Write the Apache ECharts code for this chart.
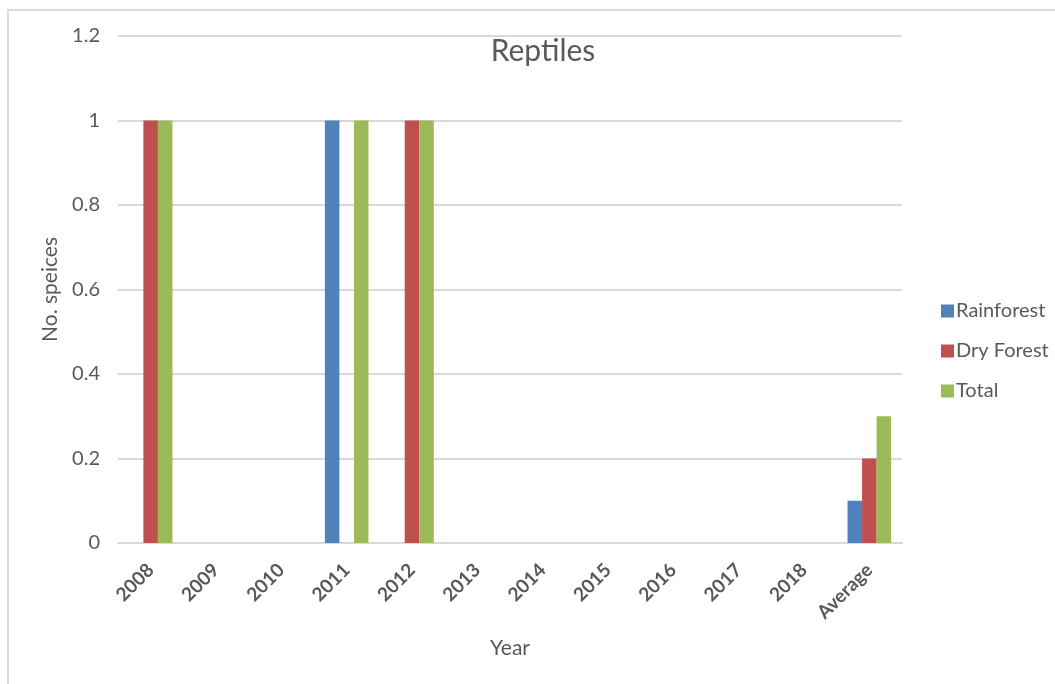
<!DOCTYPE html>
<html>
<head>
<meta charset="utf-8">
<script src="https://cdn.jsdelivr.net/npm/echarts@6/dist/echarts.min.js"></script>
<style>
  html, body { margin: 0; padding: 0; background: #ffffff; }
  #frame { position: absolute; left: 0; top: 0; width: 1055px; height: 684px; overflow: hidden; }
  #edge { position: absolute; left: 7px; top: 9px; width: 1060px; height: 690px;
          border-left: 2px solid #d9d9d9; border-top: 2px solid #d9d9d9; box-sizing: border-box; }
  #chart { position: absolute; left: 0; top: 0; width: 1055px; height: 684px; }
</style>
</head>
<body>
<div id="frame">
  <div id="edge"></div>
  <div id="chart"></div>
</div>
<script>
// Reptile species recorded per year
const years = ['2008', '2009', '2010', '2011', '2012', '2013', '2014', '2015', '2016', '2017', '2018', 'Average'];
const rainforest = [0, 0, 0, 1, 0, 0, 0, 0, 0, 0, 0, 0.1];
const dryForest  = [1, 0, 0, 0, 1, 0, 0, 0, 0, 0, 0, 0.2];
const total      = [1, 0, 0, 1, 1, 0, 0, 0, 0, 0, 0, 0.3];
const yTicks = [0, 0.2, 0.4, 0.6, 0.8, 1, 1.2];

const FONT = 'Lato, "Open Sans", sans-serif';
const TEXT = '#595959';

const chart = echarts.init(document.getElementById('chart'), null, { renderer: 'canvas' });

function barSeries(name, data, color) {
  return {
    name: name,
    type: 'bar',
    data: data,
    barGap: '0%',
    barCategoryGap: '33.3%',
    itemStyle: { color: color },
    emphasis: { disabled: true }
  };
}

chart.setOption({
  backgroundColor: 'transparent',
  animation: false,
  title: {
    text: 'Reptiles',
    left: 538,
    top: 31,
    textAlign: 'center',
    textStyle: { fontFamily: FONT, fontSize: 30, fontWeight: 'normal', color: TEXT }
  },
  legend: {
    orient: 'vertical',
    left: 936,
    top: 296,
    itemWidth: 13,
    itemHeight: 13,
    itemGap: 20,
    icon: 'rect',
    textStyle: { fontFamily: FONT, fontSize: 20, lineHeight: 20, color: TEXT, padding: [0, 0, 0, -3] },
    data: ['Rainforest', 'Dry Forest', 'Total']
  },
  grid: { left: 118, right: 153, top: 36, bottom: 141, containLabel: false },
  xAxis: {
    type: 'category',
    data: years,
    name: 'Year',
    nameLocation: 'middle',
    nameGap: 95,
    nameTextStyle: { fontFamily: FONT, fontSize: 21, color: TEXT },
    axisLine: { lineStyle: { color: '#d9d9d9', width: 2 } },
    axisTick: { show: false },
    axisLabel: {
      rotate: 45,
      interval: 0,
      margin: 24,
      fontFamily: FONT,
      fontSize: 19,
      fontWeight: 'bold',
      color: TEXT
    }
  },
  yAxis: {
    type: 'value',
    min: yTicks[0],
    max: yTicks[yTicks.length - 1],
    interval: 0.2,
    name: 'No. speices',
    nameLocation: 'middle',
    nameGap: 51,
    nameRotate: 90,
    nameTextStyle: { fontFamily: FONT, fontSize: 21, color: TEXT },
    axisLine: { show: false },
    axisTick: { show: false },
    splitLine: { lineStyle: { color: '#d9d9d9', width: 2 } },
    axisLabel: {
      margin: 18,
      fontFamily: FONT,
      fontSize: 20,
      color: TEXT,
      formatter: function (v) { return String(+v.toFixed(1)); }
    }
  },
  series: [
    barSeries('Rainforest', rainforest, '#4f81bd'),
    barSeries('Dry Forest', dryForest, '#c0504d'),
    barSeries('Total', total, '#9bbb59')
  ]
});
</script>
</body>
</html>
